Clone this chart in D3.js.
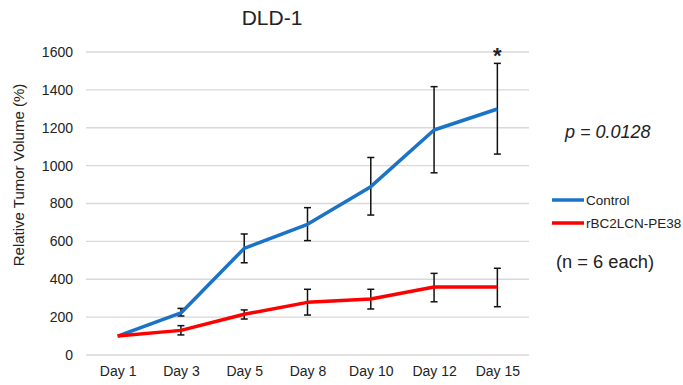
<!DOCTYPE html>
<html>
<head>
<meta charset="utf-8">
<script src="https://cdn.jsdelivr.net/npm/d3@7"></script>
<style>
  body { margin: 0; background: #fff; }
  text { font-family: "Liberation Sans", Arial, sans-serif; fill: #222; }
</style>
</head>
<body>
<svg id="chart"></svg>
<script>
// Data
let days = ["Day 1", "Day 3", "Day 5", "Day 8", "Day 10", "Day 12", "Day 15"];
let yTicks = [0, 200, 400, 600, 800, 1000, 1200, 1400, 1600];

let control = [100, 222, 563, 690, 889, 1188, 1299];
let controlLow = [100, 206, 487, 604, 739, 962, 1061];
let controlHigh = [100, 246, 639, 778, 1043, 1417, 1540];

let treated = [100, 130, 215, 278, 296, 359, 359];
let treatedLow = [100, 106, 190, 211, 243, 281, 255];
let treatedHigh = [100, 155, 238, 347, 347, 431, 458];

let seriesNames = ["Control", "rBC2LCN-PE38"];
let seriesColors = ["#1a73c6", "#ff0000"];

// SVG Size
let width = 683;
let height = 385;

let svg = d3.select("#chart")
    .attr("width", width)
    .attr("height", height);

// Scales
let x = d3.scalePoint()
    .domain(days)
    .range([86, 529])
    .padding(0.5);

let y = d3.scaleLinear()
    .domain([0, 1600])
    .range([355, 52]);

// Gridlines
svg.append("g")
    .selectAll("line")
    .data(yTicks)
    .enter()
    .append("line")
    .attr("x1", 86)
    .attr("x2", 529)
    .attr("y1", d => y(d))
    .attr("y2", d => y(d))
    .attr("stroke", "#d9d9d9")
    .attr("stroke-width", 1.3);

// Y axis labels
let yAxis = svg.append("g")
    .attr("transform", "translate(80,0)")
    .call(d3.axisLeft(y).tickValues(yTicks).tickFormat(d3.format("d")).tickSize(0).tickPadding(7));
yAxis.select(".domain").remove();
yAxis.selectAll("text")
    .style("font-family", "'Liberation Sans', Arial, sans-serif")
    .style("font-size", "14px")
    .attr("fill", "#222");

// X axis labels
let xAxis = svg.append("g")
    .attr("transform", "translate(0,362)")
    .call(d3.axisBottom(x).tickSize(0).tickPadding(4));
xAxis.select(".domain").remove();
xAxis.selectAll("text")
    .style("font-family", "'Liberation Sans', Arial, sans-serif")
    .style("font-size", "14px")
    .attr("fill", "#222");

// Error bars
function errorBars(low, high) {
    let g = svg.append("g")
        .attr("stroke", "#111")
        .attr("stroke-width", 1.5);
    days.forEach((d, i) => {
        if (low[i] === high[i]) return;
        g.append("line")
            .attr("x1", x(d)).attr("x2", x(d))
            .attr("y1", y(low[i])).attr("y2", y(high[i]));
        g.append("line")
            .attr("x1", x(d) - 3.5).attr("x2", x(d) + 3.5)
            .attr("y1", y(low[i])).attr("y2", y(low[i]));
        g.append("line")
            .attr("x1", x(d) - 3.5).attr("x2", x(d) + 3.5)
            .attr("y1", y(high[i])).attr("y2", y(high[i]));
    });
}

errorBars(controlLow, controlHigh);
errorBars(treatedLow, treatedHigh);

// Lines
let line = d3.line()
    .x((d, i) => x(days[i]))
    .y(d => y(d));

svg.append("path")
    .datum(control)
    .attr("d", line)
    .attr("fill", "none")
    .attr("stroke", seriesColors[0])
    .attr("stroke-width", 3.5)
    .attr("stroke-linejoin", "round");

svg.append("path")
    .datum(treated)
    .attr("d", line)
    .attr("fill", "none")
    .attr("stroke", seriesColors[1])
    .attr("stroke-width", 3.5)
    .attr("stroke-linejoin", "round");

// Asterisk
svg.append("text")
    .attr("x", x("Day 15"))
    .attr("y", 63)
    .attr("text-anchor", "middle")
    .style("font-size", "22px")
    .style("font-weight", "bold")
    .attr("fill", "#111")
    .text("*");

// Title
svg.append("text")
    .attr("x", 272)
    .attr("y", 25)
    .attr("text-anchor", "middle")
    .style("font-size", "21px")
    .text("DLD-1");

// Y title
svg.append("text")
    .attr("transform", "translate(24,175) rotate(-90)")
    .attr("text-anchor", "middle")
    .style("font-size", "15px")
    .text("Relative Tumor Volume (%)");

// p value
svg.append("text")
    .attr("x", 565)
    .attr("y", 138)
    .style("font-size", "18px")
    .style("font-style", "italic")
    .text("p = 0.0128");

// Legend
let legend = svg.append("g");
seriesNames.forEach((name, i) => {
    let ly = 200 + i * 23;
    legend.append("line")
        .attr("x1", 552).attr("x2", 584)
        .attr("y1", ly).attr("y2", ly)
        .attr("stroke", seriesColors[i])
        .attr("stroke-width", 3.5);
    legend.append("text")
        .attr("x", 586)
        .attr("y", ly + 5)
        .style("font-size", "13.5px")
        .text(name);
});

svg.append("text")
    .attr("x", 556)
    .attr("y", 268)
    .style("font-size", "18.3px")
    .text("(n = 6 each)");
</script>
</body>
</html>
